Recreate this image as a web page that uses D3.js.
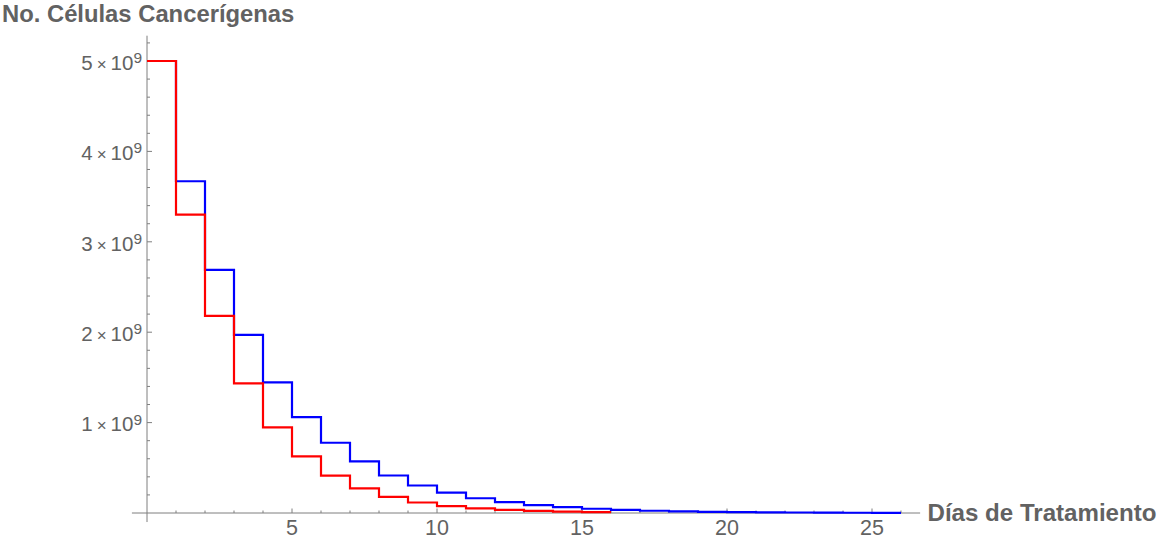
<!DOCTYPE html>
<html>
<head>
<meta charset="utf-8">
<script src="https://cdn.jsdelivr.net/npm/d3@7"></script>
<style>
  html, body { margin: 0; padding: 0; background: #fff; }
  svg { display: block; }
</style>
</head>
<body>
<svg id="chart" width="1158" height="542"></svg>
<script>
// ---- Data ----
const days = d3.range(0, 26);
const blueValues = [5.0e9, 3.67e9, 2.69e9, 1.97e9, 1.445e9, 1.06e9, 0.777e9, 0.57e9, 0.415e9, 0.304e9,
  0.225e9, 0.163e9, 0.121e9, 0.088e9, 0.064e9, 0.047e9, 0.034e9, 0.025e9, 0.018e9, 0.0135e9,
  0.010e9, 0.0074e9, 0.0054e9, 0.004e9, 0.0029e9, 0.0021e9];
const redValues = [5.0e9, 3.30e9, 2.18e9, 1.435e9, 0.948e9, 0.627e9, 0.413e9, 0.273e9, 0.178e9, 0.116e9,
  0.077e9, 0.051e9, 0.034e9, 0.0225e9, 0.0148e9, 0.0098e9];
const xTickMajor = [5, 10, 15, 20, 25];
const xTickMinor = d3.range(1, 27);
const yTickMajor = [1e9, 2e9, 3e9, 4e9, 5e9];
const yTickLabels = ["1", "2", "3", "4", "5"];
const yTickMinor = d3.range(1, 27).map(i => i * 0.2e9);
const titleY = "No. Células Cancerígenas";
const titleX = "Días de Tratamiento";

// ---- Layout ----
const svg = d3.select("#chart");
const x = d3.scaleLinear().domain([0, 25]).range([147, 872]);
const y = d3.scaleLinear().domain([0, 5e9]).range([513, 61]);
const axisColor = "#7f7f7f";
const textColor = "#626262";
const font = "'Liberation Sans', Arial, sans-serif";

// axes lines
svg.append("line").attr("x1", x(-0.52)).attr("x2", x(26.66))
  .attr("y1", y(0)).attr("y2", y(0)).attr("stroke", axisColor).attr("stroke-width", 1);
svg.append("line").attr("x1", x(0)).attr("x2", x(0))
  .attr("y1", y(-0.1e9)).attr("y2", y(5.28e9)).attr("stroke", axisColor).attr("stroke-width", 1);

// x ticks
svg.append("g").selectAll("line").data(xTickMinor).join("line")
  .attr("x1", d => x(d)).attr("x2", d => x(d))
  .attr("y1", y(0)).attr("y2", d => y(0) - (d % 5 === 0 ? 4.5 : 2.5))
  .attr("stroke", axisColor).attr("stroke-width", 1);
svg.append("g").selectAll("text").data(xTickMajor).join("text")
  .attr("x", d => x(d)).attr("y", 534.5)
  .attr("text-anchor", "middle")
  .attr("font-family", font).attr("font-size", 21.5).attr("fill", textColor)
  .text(d => d);

// y ticks
svg.append("g").selectAll("line").data(yTickMinor).join("line")
  .attr("x1", x(0)).attr("x2", (d, i) => x(0) + ((i + 1) % 5 === 0 ? 5 : 3))
  .attr("y1", d => y(d)).attr("y2", d => y(d))
  .attr("stroke", axisColor).attr("stroke-width", 1);
const yl = svg.append("g").selectAll("text").data(yTickMajor).join("text")
  .attr("x", 142).attr("y", d => y(d) + 8.7)
  .attr("text-anchor", "end")
  .attr("font-family", font).attr("font-size", 20.5).attr("fill", textColor);
yl.append("tspan").text((d, i) => yTickLabels[i]);
yl.append("tspan").attr("dx", 4).attr("font-size", 17).text("×");
yl.append("tspan").attr("dx", 4).text("10");
yl.append("tspan").attr("dy", -6.7).attr("font-size", 15.5).text("9");

// axis titles
svg.append("text").attr("x", 2).attr("y", 22)
  .attr("font-family", font).attr("font-weight", "bold").attr("font-size", 23.8)
  .attr("fill", textColor).text(titleY);
svg.append("text").attr("x", 927.5).attr("y", 521)
  .attr("font-family", font).attr("font-weight", "bold").attr("font-size", 24.1)
  .attr("fill", textColor).text(titleX);

// step lines
const line = d3.line().x(d => x(d[0])).y(d => y(d[1])).curve(d3.curveStepAfter);
function stepPoints(vals) {
  const pts = vals.map((v, i) => [days[i], v]);
  pts.push([vals.length, vals[vals.length - 1]]);
  return pts;
}
svg.append("path").datum(stepPoints(blueValues))
  .attr("d", line).attr("fill", "none").attr("stroke", "#0000ff").attr("stroke-width", 2.2);
svg.append("path").datum(stepPoints(redValues))
  .attr("d", line).attr("fill", "none").attr("stroke", "#ff0000").attr("stroke-width", 2.2);
</script>
</body>
</html>
